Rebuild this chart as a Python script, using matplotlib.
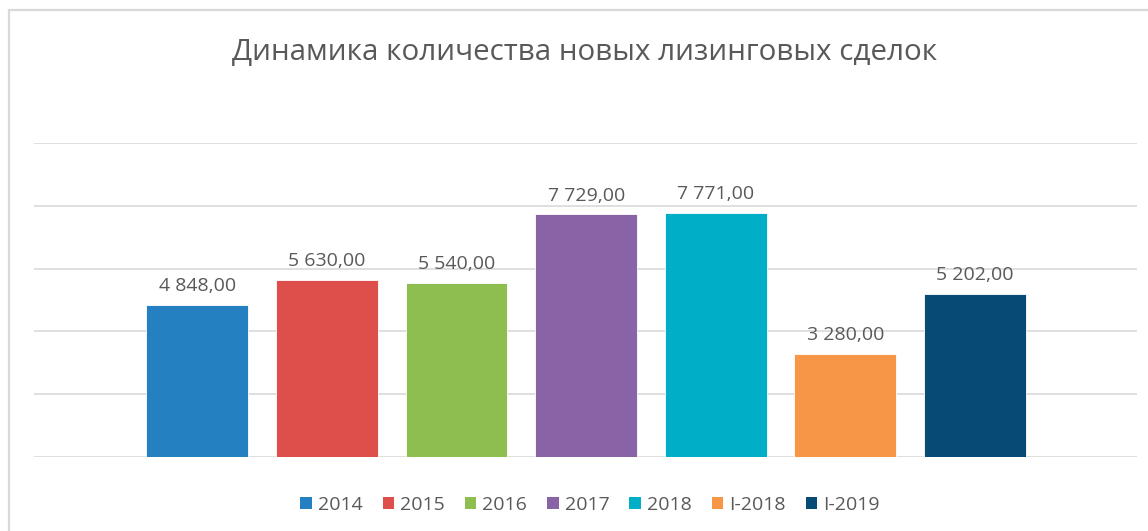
import matplotlib
matplotlib.use("Agg")
import matplotlib.pyplot as plt
from matplotlib.patches import Rectangle, Patch

# data
series = ["2014", "2015", "2016", "2017", "2018", "I-2018", "I-2019"]
values = [4848, 5630, 5540, 7729, 7771, 3280, 5202]
colors = ["#2580C1", "#DE4E4B", "#8DBE4F", "#8864A7", "#00AEC8", "#F79646", "#074A76"]

plt.rcParams["font.family"] = ["Open Sans", "DejaVu Sans"]
text_color = "#595959"

W, H = 1148, 531
fig = plt.figure(figsize=(W / 100, H / 100), dpi=100)

# outer chart frame (runs off right/bottom edges like the screenshot)
fig.patches.append(
    Rectangle((9 / W, -0.1), 1.2, (H - 10) / H + 0.1, transform=fig.transFigure,
              fill=False, edgecolor="#d9d9d9", linewidth=1.6)
)

ax = fig.add_axes([34 / W, 74 / H, (1137 - 34) / W, (457 - 143) / H])
x = list(range(len(series)))
bars = ax.bar(x, values, width=0.785, color=colors, edgecolor="#ffffff",
              linewidth=0.6, zorder=3)

for rect, v in zip(bars, values):
    label = f"{v:,.2f}".replace(",", " ").replace(".", ",")
    ax.annotate(label, (rect.get_x() + rect.get_width() / 2, v),
                xytext=(0, 7), textcoords="offset points",
                ha="center", va="bottom", fontsize=14, color=text_color)

ax.set_ylim(0, 10000)
ax.set_xlim(-1.26, len(series) - 1 + 1.25)
ax.set_yticks(range(0, 10001, 2000))
ax.yaxis.grid(True, color="#d9d9d9", linewidth=1.2, zorder=0)
ax.tick_params(left=False, bottom=False, labelleft=False, labelbottom=False)
for s in ax.spines.values():
    s.set_visible(False)

fig.text(585 / W, 1 - 53 / H, "Динамика количества новых лизинговых сделок",
         ha="center", va="center", fontsize=21.3, color=text_color)

handles = [Patch(facecolor=c, edgecolor="none") for c in colors]
fig.legend(handles, series, loc="center", bbox_to_anchor=(590 / W, 1 - 505 / H),
           ncol=len(series), frameon=False, fontsize=14, labelcolor=text_color,
           handlelength=0.6, handleheight=0.6, handletextpad=0.3, columnspacing=1.03)

fig.savefig("out.png", dpi=100)
